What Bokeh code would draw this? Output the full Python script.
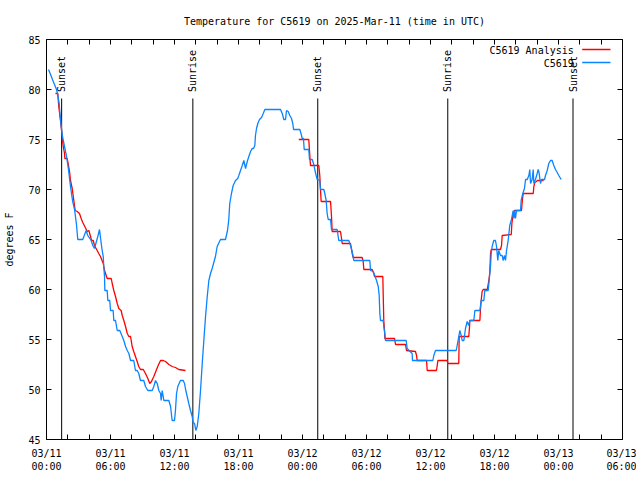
import math
from bokeh.plotting import figure
from bokeh.models import FixedTicker, LinearAxis, Range1d
from bokeh.core.properties import value
from bokeh.embed import file_html
from bokeh.resources import INLINE

FONT = "DejaVu Sans Mono"
FS = "10px"

# ---- data (hours since 03/11 00:00 UTC, degrees F) ----
obs_hours = [0.19, 0.38, 0.56, 0.75, 0.94, 1.03, 1.19, 1.27, 1.38, 1.50, 1.69, 1.88, 2.06, 2.25, 2.44, 2.63,
             2.81, 2.93, 3.40, 3.72, 3.87, 4.19, 4.34, 4.50, 4.81, 4.97, 5.13, 5.22, 5.32, 5.37, 5.44, 5.47,
             5.69, 5.75, 5.93, 6.00, 6.25, 6.31, 6.47, 6.63, 6.87, 7.10, 7.25, 7.41, 7.57, 7.72, 7.88, 8.18,
             8.34, 8.50, 8.65, 8.81, 9.12, 9.28, 9.50, 9.91, 10.06, 10.22, 10.38, 10.53, 10.69, 10.75, 10.85,
             11.00, 11.47, 11.63, 11.78, 12.00, 12.09, 12.19, 12.31, 12.56, 12.82, 12.94, 13.06, 13.19, 13.34,
             13.50, 13.66, 13.75, 13.88, 14.00, 14.13, 14.28, 14.44, 14.60, 14.75, 14.91, 15.07, 15.22, 15.38,
             15.53, 15.84, 16.00, 16.31, 16.78, 16.97, 17.09, 17.18, 17.34, 17.50, 17.72, 17.93, 18.03, 18.19,
             18.35, 18.50, 18.66, 18.82, 18.97, 19.13, 19.28, 19.41, 19.53, 19.59, 19.69, 19.81, 19.97, 20.16,
             20.32, 20.47, 21.94, 22.10, 22.25, 22.41, 22.50, 22.66, 22.81, 22.97, 23.09, 23.16, 23.75, 23.91,
             23.97, 24.09, 24.16, 24.59, 24.66, 24.91, 25.06, 25.15, 25.28, 25.38, 25.43, 25.62, 25.69, 26.00,
             26.09, 26.22, 26.31, 26.41, 26.63, 26.72, 27.25, 27.40, 28.34, 28.50, 28.66, 28.81, 30.31, 30.38,
             30.63, 30.78, 30.94, 31.10, 31.19, 31.25, 31.31, 31.57, 31.62, 31.72, 31.78, 33.72, 33.81, 34.28,
             34.31, 36.22, 36.31, 36.47, 38.41, 38.50, 38.65, 38.75, 38.88, 38.97, 39.13, 39.28, 39.44, 39.59,
             39.69, 40.06, 40.16, 40.63, 40.75, 41.00, 41.09, 41.41, 41.50, 41.63, 41.69, 41.78, 41.93, 42.09,
             42.19, 42.31, 42.40, 42.56, 42.72, 42.81, 42.94, 43.03, 43.13, 43.28, 43.43, 43.57, 43.66, 43.75,
             43.81, 43.88, 43.97, 44.06, 44.44, 44.50, 44.65, 44.81, 44.91, 45.07, 45.22, 45.31, 45.38, 45.53,
             45.63, 45.69, 45.84, 46.00, 46.10, 46.19, 46.31, 46.41, 46.69, 46.78, 46.94, 47.09, 47.25, 47.41,
             47.56, 47.72, 47.88, 48.03, 48.25]
obs_temps = [82.0, 81.5, 81.0, 80.5, 80.0, 79.6, 78.6, 77.5, 76.3, 75.3, 74.3, 73.3, 72.0, 70.3, 68.9, 68.0,
             66.5, 65.0, 65.0, 65.9, 65.4, 64.9, 64.4, 64.1, 65.3, 66.0, 64.6, 63.9, 63.3, 62.3, 61.3, 59.9,
             59.9, 58.9, 58.9, 57.9, 57.9, 56.9, 56.9, 55.9, 55.9, 55.3, 54.9, 54.3, 53.9, 53.6, 52.9, 52.9,
             51.9, 51.9, 51.6, 50.9, 50.9, 50.3, 49.9, 49.9, 50.3, 50.9, 50.6, 49.9, 49.6, 48.9, 49.9,
             48.9, 48.9, 48.3, 46.9, 46.9, 47.9, 49.6, 50.3, 50.9, 50.9, 50.6, 49.9, 49.3, 48.6,
             47.9, 47.3, 46.7, 46.6, 45.9, 46.3, 47.6, 49.9, 52.6, 54.9, 57.3, 59.3, 60.9, 61.6,
             62.1, 63.3, 64.3, 65.0, 65.0, 65.9, 67.0, 68.6, 69.6, 70.4, 70.9, 71.1, 71.4, 71.9,
             72.4, 72.9, 72.1, 72.8, 73.3, 73.8, 74.1, 74.1, 74.4, 75.4, 76.1, 76.6, 77.0, 77.2,
             77.6, 78.0, 78.0, 77.6, 77.0, 77.0, 77.9, 77.8, 77.4, 77.1, 76.6, 76.0, 76.0, 75.4,
             75.1, 75.1, 74.0, 74.0, 73.0, 73.0, 72.5, 72.0, 71.4, 71.0, 71.0, 70.9, 70.0, 70.0,
             69.6, 68.9, 67.6, 67.0, 67.0, 66.0, 66.0, 64.9, 64.9, 64.4, 63.8, 62.9, 62.9, 61.9,
             61.8, 61.4, 60.9, 60.3, 59.4, 57.6, 56.9, 56.9, 56.3, 55.6, 54.9, 54.9, 54.1, 53.6,
             52.9, 52.9, 53.4, 53.9, 53.9, 54.4, 55.3, 55.9, 55.4, 54.9, 54.9, 56.1, 56.8, 56.4,
             56.9, 56.9, 57.9, 57.9, 58.9, 58.9, 59.9, 59.9, 60.9, 62.4, 63.6, 64.3, 64.9, 64.9,
             64.3, 62.9, 63.9, 63.4, 63.4, 62.9, 63.4, 62.9, 63.9, 64.9, 66.4, 66.9, 67.4, 67.9,
             67.1, 67.9, 67.1, 67.9, 67.9, 68.9, 69.6, 70.1, 71.0, 71.0, 71.4, 72.0, 70.6, 71.0,
             72.0, 70.6, 71.0, 71.6, 72.0, 71.6, 70.6, 71.0, 71.0, 71.4, 71.9, 72.6, 72.9, 72.9,
             72.4, 72.0, 71.7, 71.4, 71.0]

ana_hours_1 = [0.84, 1.06, 1.15, 1.31, 1.41, 1.50, 1.57, 1.69, 1.72, 1.94, 2.03, 2.16, 2.25, 2.41, 2.56, 2.69,
               2.88, 3.09, 3.25, 3.40, 3.59, 3.82, 3.97, 4.13, 4.22, 4.38, 4.50, 4.75, 4.90, 5.06, 5.32, 5.44,
               5.69, 6.07, 6.16, 6.31, 6.47, 6.63, 6.78, 7.00, 7.10, 7.25, 7.41, 7.57, 7.72, 7.88, 8.03, 8.18,
               8.34, 8.50, 8.65, 8.81, 9.07, 9.28, 9.50, 9.68, 9.84, 10.06, 10.28, 10.47, 10.69, 10.94, 11.16,
               11.47, 11.78, 12.09, 12.40, 13.03]
ana_temps_1 = [79.6, 79.6, 78.3, 76.9, 75.9, 74.9, 74.3, 73.6, 73.1, 73.1, 72.6, 71.8, 70.9, 70.1, 68.9, 67.9,
               67.8, 67.6, 67.1, 66.7, 66.3, 65.8, 65.9, 65.3, 64.9, 64.9, 64.4, 63.9, 63.6, 63.3, 62.6, 61.9,
               61.1, 61.1, 60.6, 59.9, 59.3, 58.6, 58.1, 57.9, 57.4, 56.9, 56.3, 55.6, 55.3, 55.3, 54.3, 53.8,
               53.3, 52.8, 52.3, 52.0, 52.0, 51.6, 51.1, 50.6, 50.8, 51.3, 51.9, 52.4, 52.9, 52.9, 52.8,
               52.5, 52.3, 52.2, 52.0, 51.9]

ana_hours_2 = [23.65, 24.59, 24.66, 24.75, 25.53, 25.62, 25.69, 25.75, 26.63, 26.72, 26.78, 27.56, 27.66, 27.72,
               28.50, 28.66, 28.75, 29.59, 29.69, 29.75, 30.53, 30.69, 30.75, 31.53, 31.56, 31.62, 31.69, 31.72,
               32.63, 32.72, 33.66, 33.75, 34.59, 34.69, 34.75, 35.63, 35.69, 36.56, 36.63, 36.69, 37.57, 37.62,
               38.65, 38.69, 39.59, 39.66, 39.69, 40.63, 40.69, 40.75, 40.84, 40.94, 41.32, 41.47, 41.56, 41.63,
               41.69, 42.56, 42.66, 42.72, 43.57, 43.63, 43.72, 43.88, 44.53, 44.60, 44.69, 45.63, 45.69, 45.78,
               45.94, 46.00, 46.60]
ana_temps_2 = [75.0, 75.0, 73.8, 72.4, 72.4, 71.4, 69.9, 68.8, 68.8, 67.3, 65.8, 65.8, 65.1, 64.6,
               64.6, 63.6, 63.2, 63.2, 62.8, 62.0, 62.0, 61.6, 61.3, 61.3, 59.8, 56.9, 55.9, 55.1,
               55.1, 54.5, 54.5, 53.9, 53.8, 53.4, 52.9, 52.9, 51.9, 51.9, 52.4, 52.9, 52.9, 52.6,
               52.6, 55.3, 55.3, 56.3, 56.9, 56.9, 58.1, 58.9, 59.8, 60.0, 60.0, 60.9, 61.7, 63.6,
               64.0, 64.0, 64.4, 65.4, 65.5, 66.6, 67.3, 67.9, 67.9, 68.8, 69.6, 69.6, 70.3, 70.7,
               70.8, 70.9, 70.9]

event_hours = [1.42, 13.72, 25.43, 37.62, 49.36]
event_names = ["Sunset", "Sunrise", "Sunset", "Sunrise", "Sunset"]

tick_hours = [0, 6, 12, 18, 24, 30, 36, 42, 48, 54]
tick_labels = ["03/11\n00:00", "03/11\n06:00", "03/11\n12:00", "03/11\n18:00", "03/12\n00:00",
               "03/12\n06:00", "03/12\n12:00", "03/12\n18:00", "03/13\n00:00", "03/13\n06:00"]
y_ticks = [45, 50, 55, 60, 65, 70, 75, 80, 85]

series_names = ["C5619 Analysis", "C5619"]
RED = "#ff0000"
BLUE = "#0a84ff"

p = figure(width=636, height=476, output_backend="svg", toolbar_location=None,
           x_range=Range1d(0, 54), y_range=Range1d(45, 85),
           min_border_left=46, min_border_right=14, min_border_top=39, min_border_bottom=37)
p.background_fill_color = "white"
p.border_fill_color = "white"
p.outline_line_color = "black"
p.outline_line_width = 1
p.outline_line_alpha = 1
p.xgrid.visible = False
p.ygrid.visible = False

p.title.text = "Temperature for C5619 on 2025-Mar-11 (time in UTC)"
p.title.align = "center"
p.title.text_font = FONT
p.title.text_font_size = FS
p.title.text_font_style = "normal"
p.title.text_color = "black"
p.title.standoff = 25

all_x_ticks = list(range(0, 55, 2))
overrides = {}
for t in all_x_ticks:
    overrides[t] = ""
for t, lab in zip(tick_hours, tick_labels):
    overrides[t] = lab

def style_axis(ax, labels=True):
    ax.axis_line_color = None
    ax.major_tick_in = 5
    ax.major_tick_out = 0
    ax.minor_tick_in = 0
    ax.minor_tick_out = 0
    ax.major_tick_line_color = "black"
    ax.major_label_text_font = FONT
    ax.major_label_text_font_size = FS if labels else "0px"
    ax.major_label_text_color = "black"

xa = p.xaxis[0]
xa.ticker = FixedTicker(ticks=all_x_ticks)
xa.major_label_overrides = overrides
xa.major_label_standoff = 8
style_axis(xa)

ya = p.yaxis[0]
ya.ticker = FixedTicker(ticks=y_ticks)
ya.major_label_standoff = 6
ya.axis_label = "degrees F"
ya.axis_label_text_font = FONT
ya.axis_label_text_font_size = FS
ya.axis_label_text_font_style = "normal"
ya.axis_label_text_color = "black"
ya.axis_label_standoff = 10
style_axis(ya)

top = LinearAxis(ticker=FixedTicker(ticks=all_x_ticks))
style_axis(top, labels=False)
top.major_label_overrides = {t: "" for t in all_x_ticks}
p.add_layout(top, "above")
right = LinearAxis(ticker=FixedTicker(ticks=y_ticks))
style_axis(right, labels=False)
right.major_label_overrides = {t: "" for t in y_ticks}
p.add_layout(right, "right")

# sunrise / sunset markers
line_top = 79.1
label_y = 79.75
p.segment(x0=event_hours, y0=[45] * len(event_hours), x1=event_hours, y1=[line_top] * len(event_hours),
          line_color="black", line_width=1)
p.text(x=event_hours, y=[label_y] * len(event_hours), text=event_names, angle=math.pi / 2,
       text_align="left", text_baseline="middle", text_font=value(FONT), text_font_size=FS,
       text_color="black")

# data series
p.line(ana_hours_1, ana_temps_1, line_color=RED, line_width=1.3)
p.line(ana_hours_2, ana_temps_2, line_color=RED, line_width=1.3)
p.line(obs_hours, obs_temps, line_color=BLUE, line_width=1.3)

# legend (gnuplot style: label then sample line)
leg_text_x = 49.43
leg_line_x0, leg_line_x1 = 50.22, 52.87
leg_rows = [84.0, 82.7]
p.text(x=[leg_text_x] * 2, y=[r - 0.1 for r in leg_rows], text=series_names, text_align="right",
       text_baseline="middle", text_font=value(FONT), text_font_size=FS, text_color="black")
p.segment(x0=[leg_line_x0] * 2, y0=leg_rows, x1=[leg_line_x1] * 2, y1=leg_rows,
          line_color=[RED, BLUE], line_width=1.3)

open("out.html", "w").write(file_html(p, INLINE))
